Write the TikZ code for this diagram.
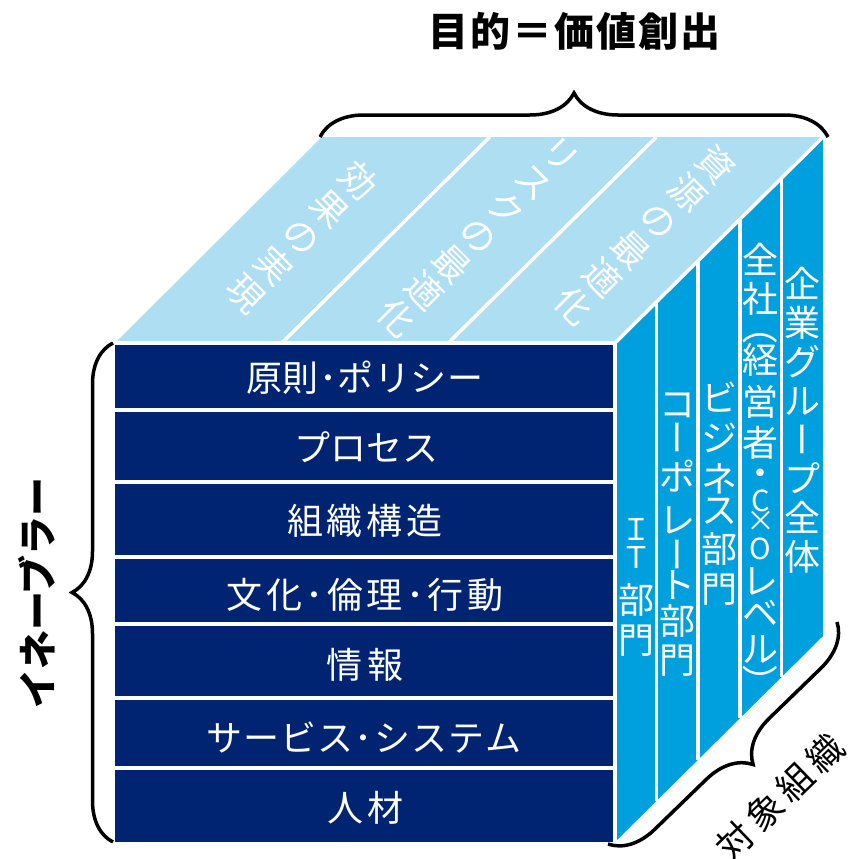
\documentclass[tikz,border=0pt]{standalone}
\usepackage{fontspec}
\usepackage{graphicx}
\setmainfont{Noto Sans CJK JP}
\usetikzlibrary{decorations.pathreplacing}
\definecolor{navy}{RGB}{0,36,113}
\definecolor{cubeblue}{RGB}{0,160,222}
\definecolor{lightblue}{RGB}{173,222,242}
\makeatletter
\newcommand\lsp[2]{\def\lsp@k{#1}\lsp@loop#2\relax}
\def\lsp@loop#1{\ifx#1\relax\unkern\else#1\kern\lsp@k\relax\expandafter\lsp@loop\fi}
\makeatother
\newcommand\emb[1]{\raisebox{0pt}[0.88em][0.12em]{#1}}
\newcommand\vbar{\rotatebox[origin=c]{-90}{\emb{ー}}}
\newcommand\vlp{\rotatebox[origin=c]{-90}{\emb{（}}}
\newcommand\vrp{\rotatebox[origin=c]{-90}{\emb{）}}}
\newcommand\lat[1]{{\fontsize{29pt}{36pt}\selectfont #1}}
\newcommand\latb[1]{{\fontsize{30pt}{36pt}\selectfont #1}}
\AtBeginDocument{\lineskiplimit=-100pt}
\begin{document}
\begin{tikzpicture}[x=1pt,y=-1pt,
  wline/.style={white, line width=3.5pt},
  bracestyle/.style={decorate, line width=3.5pt, black},
  rowtext/.style={white, font=\fontsize{36pt}{36pt}\selectfont, inner sep=0pt, text height=31.7pt, text depth=4.3pt},
  toptext/.style={white, align=center, font=\fontsize{36pt}{#1}\selectfont, inner sep=0pt, rotate=-45},
  vtext/.style={white, align=center, inner sep=0pt, anchor=north},
  vfont/.style={font=\fontsize{36pt}{#1}\selectfont},
]
\useasboundingbox (0,0) rectangle (858,859);
% faces
\fill[lightblue] (115,343) -- (615,343) -- (823,137) -- (322,137) -- cycle;
\fill[cubeblue] (615,343) -- (823,137) -- (823,636) -- (615,842) -- cycle;
\fill[navy] (115,343) rectangle (615,842);
% white separators
\draw[wline] (115,343) -- (615,343);
\foreach \y in {410,482,557,624,698,768} \draw[wline] (115,\y) -- (617,\y);
\draw[wline] (615,343) -- (615,842);
\draw[wline] (615,343) -- (823,137);
\draw[wline] (281.7,343) -- (489.7,137);
\draw[wline] (448.3,343) -- (656.3,137);
\draw[wline] (656.6,301.8) -- (656.6,800.8);
\draw[wline] (698.2,260.6) -- (698.2,759.6);
\draw[wline] (739.8,219.4) -- (739.8,718.4);
\draw[wline] (781.4,178.2) -- (781.4,677.2);
% front rows
\node[rowtext] (r1) at (365,378) {\lsp{0.5pt}{原則･ポリシー}};
\node[rowtext] (r2) at (366,448) {プロセス};
\node[rowtext] (r3) at (365,521) {\lsp{4pt}{組織構造}};
\node[rowtext] (r4) at (365,595) {\lsp{3.5pt}{文化･倫理･行動}};
\node[rowtext] (r5) at (365,665) {\lsp{5pt}{情報}};
\node[rowtext] (r6) at (364,738) {\lsp{1.2pt}{サービス･システム}};
\node[rowtext] (r7) at (365,808) {\lsp{4pt}{人材}};
% top face texts (vertical writing, tilted)
\node[toptext=40pt] (t1) at (302,237) {効\\果\\の\\実\\現};
\node[toptext=38.5pt] (t2) at (478,237) {リ\\ス\\ク\\の\\最\\適\\化};
\node[toptext=40pt] (t3) at (645,235) {資\\源\\の\\最\\適\\化};
% right face texts (vertical writing)
\node[vtext, vfont=36pt] (s1) at (636,518) {\latb{Ｉ}\\[-8pt]\latb{Ｔ}\\[9.4pt]部\\[4pt]門};
\node[vtext, vfont=36pt] (s2) at (677.5,393) {コ\\[-3pt]\vbar\\[4pt]ポ\\[7pt]レ\\[-2pt]\vbar\\[-5pt]ト\\[0pt]部\\[3pt]門};
\node[vtext, vfont=36pt] (s3) at (719,382) {ビ\\[4pt]ジ\\[5pt]ネ\\[-5pt]ス\\[3pt]部\\[4pt]門};
\node[vtext, vfont=36pt] (s4) at (760.5,243) {全\\[3pt]社\\[-8.2pt]\vlp\\[-2.8pt]経\\[6pt]営\\[5pt]者\\[-6pt]・\\[-10.7pt]\lat{C}\\[-16pt]\lat{×}\\[-8pt]\lat{O}\\[-1.3pt]レ\\[-4pt]ベ\\[0pt]ル\\[-2.2pt]\vrp};
\node[vtext, vfont=39pt] (s5) at (802,267) {企\\業\\グ\\ル\\\vbar\\プ\\全\\体};
% title and braces
\node[font=\fontsize{40pt}{40pt}\selectfont\bfseries, inner sep=0pt] (title) at (574,31) {\lsp{2pt}{目的＝価値創出}};
\draw[bracestyle, decoration={brace, amplitude=44pt, aspect=0.5}] (320,137) -- (828,137);
\draw[bracestyle, decoration={brace, amplitude=41pt, aspect=0.5}] (113,842) -- (113,343);
\draw[bracestyle, decoration={brace, amplitude=44pt, aspect=0.5}] (837,622) -- (608,844);
\node[font=\fontsize{39pt}{39pt}\selectfont\bfseries, rotate=90, inner sep=0pt] (enabler) at (37,593) {イネーブラー};
\node[font=\fontsize{36pt}{36pt}\selectfont, rotate=44, inner sep=0pt] (target) at (780,797) {\lsp{6pt}{対象組織}};
\end{tikzpicture}
\end{document}
